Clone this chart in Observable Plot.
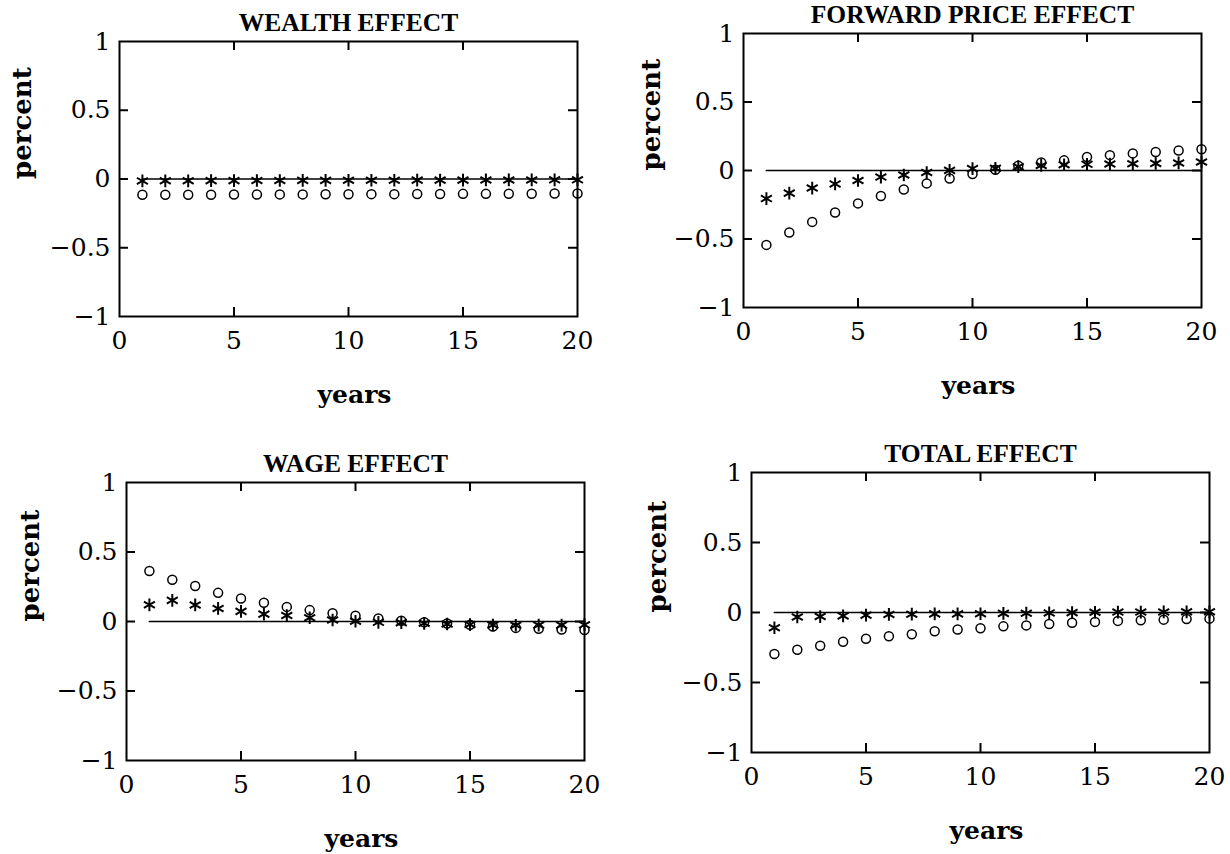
<!DOCTYPE html>
<html>
<head>
<meta charset="utf-8">
<script src="https://cdn.jsdelivr.net/npm/d3@7"></script>
<script src="https://cdn.jsdelivr.net/npm/@observablehq/plot@0.6"></script>
<style>
  html, body { margin: 0; padding: 0; background: #fff; }
  #root { position: relative; width: 1230px; height: 854px; overflow: hidden; background: #fff; }
  #root > div { position: absolute; }
</style>
</head>
<body>
<div id="root"></div>
<script>
// ---- data ----
const years = [1,2,3,4,5,6,7,8,9,10,11,12,13,14,15,16,17,18,19,20];
const xTicks = [0,5,10,15,20];
const yTicks = [-1,-0.5,0,0.5,1];
const innerXTicks = [5,10,15];
const innerYTicks = [-0.5,0,0.5];

const titles = ["WEALTH EFFECT", "FORWARD PRICE EFFECT", "WAGE EFFECT", "TOTAL EFFECT"];

const wealthCircles  = [-0.115,-0.115,-0.114,-0.114,-0.113,-0.113,-0.112,-0.112,-0.111,-0.111,-0.110,-0.110,-0.109,-0.109,-0.108,-0.108,-0.107,-0.107,-0.106,-0.106];
const wealthStars    = [-0.014,-0.013,-0.013,-0.012,-0.012,-0.011,-0.011,-0.010,-0.010,-0.009,-0.009,-0.009,-0.008,-0.008,-0.008,-0.007,-0.007,-0.007,-0.006,-0.006];

const forwardCircles = [-0.543,-0.453,-0.375,-0.306,-0.240,-0.186,-0.139,-0.094,-0.059,-0.025,0.005,0.035,0.058,0.074,0.098,0.112,0.125,0.135,0.146,0.155];
const forwardStars   = [-0.205,-0.165,-0.128,-0.098,-0.073,-0.048,-0.033,-0.015,0.001,0.014,0.016,0.028,0.037,0.042,0.045,0.047,0.049,0.052,0.055,0.062];

const wageCircles    = [0.363,0.300,0.255,0.206,0.166,0.135,0.105,0.082,0.060,0.041,0.022,0.006,-0.005,-0.014,-0.024,-0.036,-0.046,-0.053,-0.058,-0.062];
const wageStars      = [0.120,0.152,0.119,0.094,0.073,0.053,0.043,0.027,0.011,0.002,-0.006,-0.008,-0.013,-0.018,-0.022,-0.025,-0.027,-0.026,-0.026,-0.024];

const totalCircles   = [-0.296,-0.266,-0.237,-0.209,-0.187,-0.170,-0.155,-0.134,-0.122,-0.112,-0.099,-0.092,-0.082,-0.073,-0.067,-0.060,-0.055,-0.051,-0.047,-0.044];
const totalStars     = [-0.109,-0.032,-0.029,-0.024,-0.019,-0.014,-0.012,-0.010,-0.010,-0.009,-0.006,-0.005,-0.003,-0.001,0.002,0.003,0.003,0.004,0.005,0.005];

// ---- layout (panel boxes) ----
const panels = [
  {title: titles[0], circles: wealthCircles,  stars: wealthStars,  left: 0,   top: 0,   ml: 119, mr: 38, mt: 41, mb: 111, py: -97},
  {title: titles[1], circles: forwardCircles, stars: forwardStars, left: 615, top: 0,   ml: 128, mr: 29, mt: 33, mb: 120, py: -92},
  {title: titles[2], circles: wageCircles,    stars: wageStars,    left: 0,   top: 427, ml: 126, mr: 31, mt: 55, mb: 94,  py: -96},
  {title: titles[3], circles: totalCircles,   stars: totalStars,   left: 615, top: 427, ml: 136, mr: 21, mt: 45, mb: 102, py: -94}
];

const serif = "'DejaVu Serif', 'Liberation Serif', serif";
const titleFont = "'Liberation Serif', 'DejaVu Serif', serif";
const root = document.getElementById("root");

const TLEN = 9;
const xMin = xTicks[0], xMax = xTicks[xTicks.length - 1];
const yMin = yTicks[0], yMax = yTicks[yTicks.length - 1];
const fmt = d3.format("");

for (const p of panels) {
  const W = 615, H = 427;
  const innerH = H - p.mt - p.mb;
  const innerW = W - p.ml - p.mr;
  const rows = years.map((yr, i) => ({year: yr, circle: p.circles[i], star: p.stars[i]}));
  const tk = {stroke: "black", strokeWidth: 2};
  const chart = Plot.plot({
    width: W, height: H,
    marginLeft: p.ml, marginRight: p.mr, marginTop: p.mt, marginBottom: p.mb,
    style: {fontFamily: serif, color: "black", overflow: "visible"},
    x: {domain: [xMin, xMax]},
    y: {domain: [yMin, yMax]},
    marks: [
      // axis labels
      Plot.axisX({ticks: xTicks, tickSize: 0, tickPadding: 15, fontSize: 25, label: null, tickFormat: fmt}),
      Plot.axisY({ticks: yTicks, tickSize: 0, tickPadding: 9, fontSize: 25, label: null, tickFormat: fmt}),
      // zero reference line
      Plot.line(years, {x: d => d, y: () => 0, stroke: "black", strokeWidth: 1.7}),
      // series
      Plot.dot(rows, {x: "year", y: "circle", r: 4.5, stroke: "black", strokeWidth: 1.5, fill: "none"}),
      Plot.dot(rows, {x: "year", y: "star", r: 6, symbol: "asterisk", stroke: "black", strokeWidth: 2}),
      // frame and inward ticks on all four sides
      Plot.frame({stroke: "black", strokeWidth: 2}),
      Plot.ruleX(innerXTicks, {x: d => d, ...tk, insetTop: innerH - TLEN}),
      Plot.ruleX(innerXTicks, {x: d => d, ...tk, insetBottom: innerH - TLEN}),
      Plot.ruleY(innerYTicks, {y: d => d, ...tk, insetRight: innerW - TLEN}),
      Plot.ruleY(innerYTicks, {y: d => d, ...tk, insetLeft: innerW - TLEN}),
      // titles and axis names
      Plot.text([p.title], {frameAnchor: "top", lineAnchor: "middle", dy: -19, text: d => d, fontSize: 25.5, fontWeight: "bold", fontFamily: titleFont, fill: "black"}),
      Plot.text(["years"], {frameAnchor: "bottom", lineAnchor: "middle", dy: 78, dx: 6, text: d => d, fontSize: 25, fontWeight: "bold", fill: "black"}),
      Plot.text(["percent"], {frameAnchor: "left", lineAnchor: "middle", dx: p.py, rotate: -90, text: d => d, fontSize: 26, fontWeight: "bold", fill: "black"})
    ]
  });
  const wrap = document.createElement("div");
  wrap.style.left = p.left + "px";
  wrap.style.top = p.top + "px";
  wrap.appendChild(chart);
  root.appendChild(wrap);
}
</script>
</body>
</html>
